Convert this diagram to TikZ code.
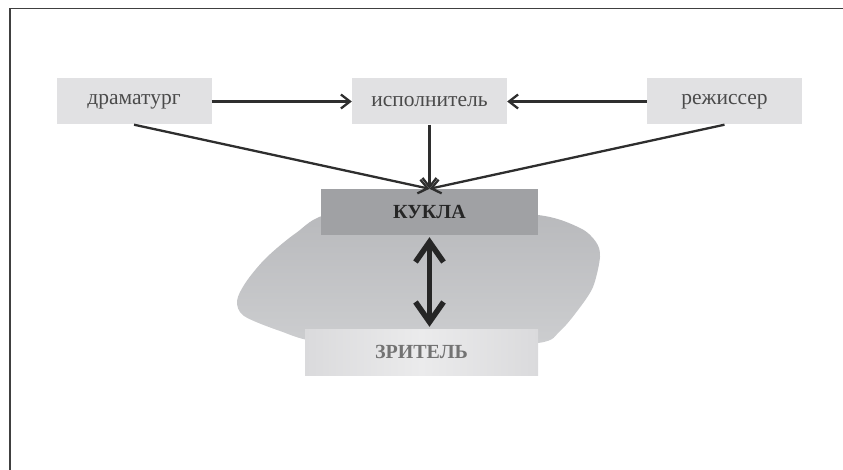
\documentclass[tikz,border=0pt]{standalone}
\usepackage{fontspec}
\setmainfont{Liberation Serif}
\usetikzlibrary{arrows.meta,calc}
\definecolor{boxgray}{HTML}{E1E1E3}
\definecolor{kuklagray}{HTML}{A0A1A4}
\definecolor{linegray}{HTML}{2E2E2E}
\definecolor{txtgray}{HTML}{4A4A4A}
\definecolor{blobtop}{HTML}{B8B9BC}
\definecolor{blobbot}{HTML}{CDCED0}
\definecolor{zrside}{HTML}{DADADC}
\definecolor{zrmid}{HTML}{EBEBEC}
\tikzset{
  topbox/.style={fill=boxgray, draw=none, minimum width=155pt, minimum height=46pt, inner sep=0pt,
    text=txtgray, font=\fontsize{21.5}{23}\selectfont},
  kuklabox/.style={fill=kuklagray, draw=none, minimum width=217pt, minimum height=46pt, inner sep=0pt,
    text=black!85, font=\fontsize{20}{22}\selectfont\bfseries},
  zrbox/.style={left color=zrside, right color=zrside, middle color=zrmid, draw=none,
    minimum width=233pt, minimum height=46pt, inner sep=0pt,
    text=black!55, font=\fontsize{20}{22}\selectfont\bfseries},
  thinarrow/.style={draw=linegray, line width=2.3pt, -{Straight Barb[length=9pt,width=14pt]}},
  thickarrow/.style={draw=black!85, line width=5.5pt, {Straight Barb[length=20pt,width=28pt]}-{Straight Barb[length=20pt,width=28pt]}},
  frameline/.style={draw=black!75, line width=1.6pt}
}
\begin{document}
\begin{tikzpicture}[x=1pt,y=-1pt]
\useasboundingbox (0,0) rectangle (843,470);
% frame
\draw[frameline] (843,8.5) -- (10,8.5) -- (10,471);
% blob
\shade[top color=blobtop, bottom color=blobbot]
  plot[smooth cycle, tension=0.5] coordinates {(330,214) (296,233) (266,258) (246,282) (237,301) (244,316) (280,331) (320,342) (430,348) (538,343) (560,331) (578,310) (593,287) (600,257) (596,242) (580,228) (538,215) (430,210)};
% nodes
\node[topbox] (dram) at (134,101.5) {драматург};
\node[topbox] (isp) at (429.5,101.5) {исполнитель};
\node[topbox] (rezh) at (724.5,101.5) {режиссер};
\node[kuklabox] (kukla) at (429.5,212) {КУКЛА};
\node[zrbox] (zr) at (421.5,352) {ЗРИТЕЛЬ};
% arrows
\draw[thinarrow] (dram.east) -- (isp.west);
\draw[thinarrow] (rezh.west) -- (isp.east);
\draw[thinarrow] (isp.south) -- (kukla.north);
\draw[thinarrow] (dram.south) -- (kukla.north);
\draw[thinarrow] (rezh.south) -- (kukla.north);
\coordinate (dtop) at ($(kukla.south)+(0,2)$);
\coordinate (dbot) at ($(kukla.south |- zr.north)+(0,-2)$);
\draw[thickarrow] (dtop) -- (dbot);
\end{tikzpicture}
\end{document}
